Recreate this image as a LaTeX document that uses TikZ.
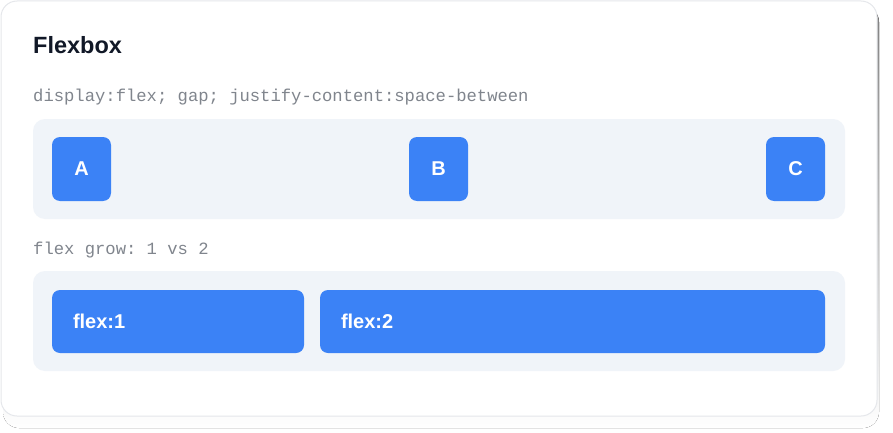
\documentclass[tikz,border=0pt]{standalone}
\usepackage{fontspec}
\setmainfont{Liberation Sans}
\setmonofont{Liberation Mono}
\usetikzlibrary{positioning}

\definecolor{cardline}{HTML}{E5E7EB}
\definecolor{shade}{HTML}{F6F6F7}
\definecolor{track}{HTML}{F0F4F9}
\definecolor{itemblue}{HTML}{3B82F6}
\definecolor{titleink}{HTML}{111827}
\definecolor{codeink}{HTML}{80858D}

\begin{document}
\begin{tikzpicture}[x=1pt, y=-1pt,
    track/.style={fill=track, rounded corners=12pt},
    item/.style={rectangle, fill=itemblue, rounded corners=8pt, text=white,
        font=\fontsize{20}{24}\selectfont\bfseries, inner sep=0pt},
    code/.style={anchor=base west, text=codeink, inner sep=0pt,
        font=\fontsize{17.2}{20}\selectfont\ttfamily}]
        \useasboundingbox (0,0) rectangle (893,433);

        % Card
        \fill[shade, rounded corners=16pt] (3,6) rectangle (879,428);
        \draw[cardline, fill=white, line width=1pt, rounded corners=16pt] (1,1) rectangle (877,416);

        % Texts
        \node[anchor=base west, inner sep=0pt, text=titleink,
            font=\fontsize{23.5}{28}\selectfont\bfseries] (title) at (33,54) {Flexbox};
        \node[code] (rowonecap) at (33,102) {display:flex; gap; justify-content:space-between};
        \node[code] (rowtwocap) at (33,254) {flex grow: 1 vs 2};

        % Tracks
        \fill[track] (33,119) rectangle (845,219);
        \fill[track] (33,271) rectangle (845,371);

        % Items
        \node[item, minimum width=59pt, minimum height=64pt] (a) at (81.5,169) {A};
        \node[item, minimum width=59pt, minimum height=64pt] (b) at (438.5,169) {B};
        \node[item, minimum width=59pt, minimum height=64pt] (c) at (795.5,169) {C};
        \node[item, minimum width=252pt, minimum height=63pt] (grow1) at (178,321.5) {};
        \node[item, minimum width=505pt, minimum height=63pt] (grow2) at (572.5,321.5) {};
        \node[item, anchor=west, fill=none] (grow1label) at ([xshift=21pt]grow1.west) {flex:1};
        \node[item, anchor=west, fill=none] (grow2label) at ([xshift=21pt]grow2.west) {flex:2};
    \end{tikzpicture}
\end{document}
